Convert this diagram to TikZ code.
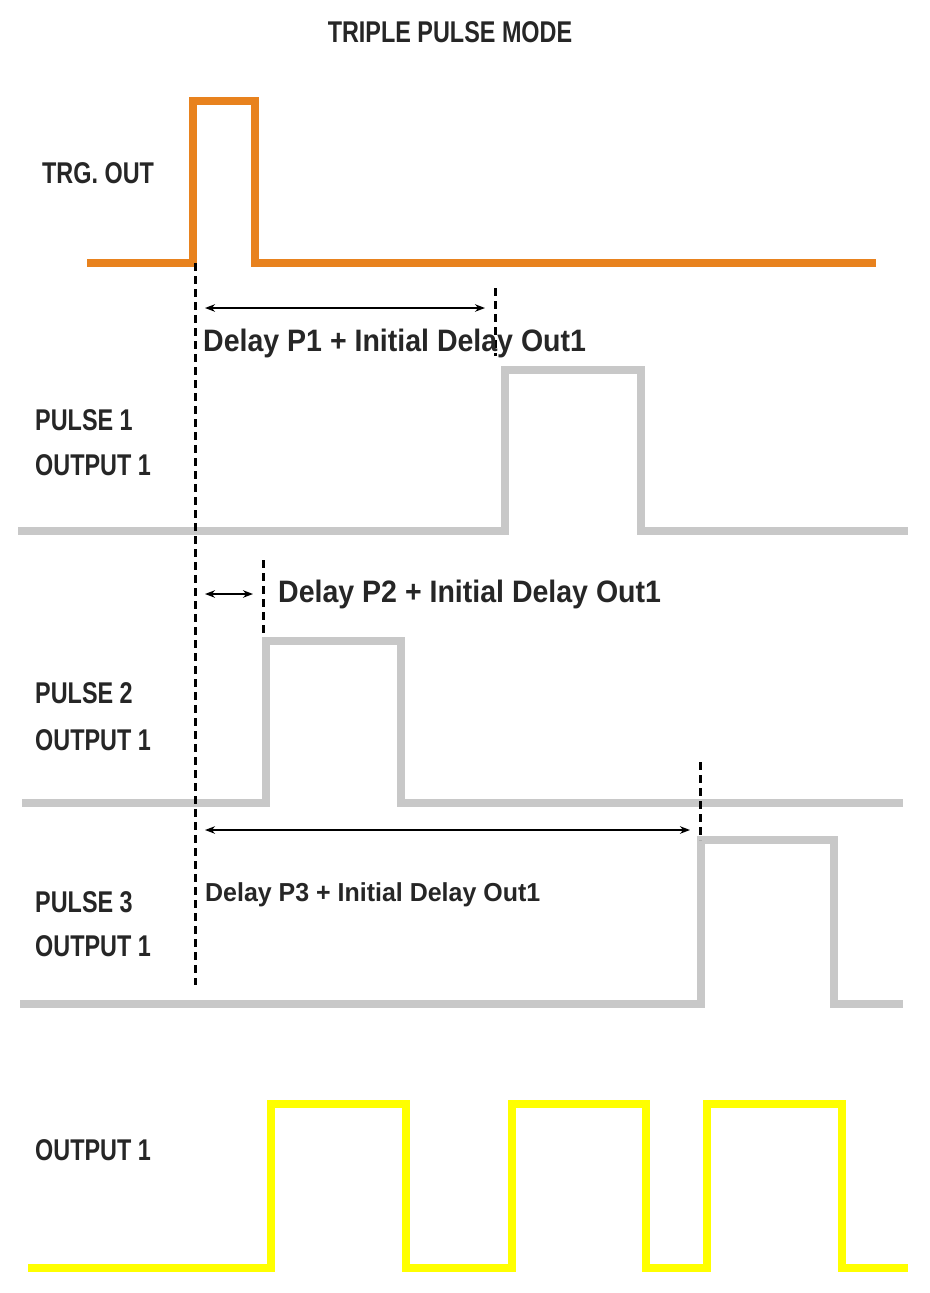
\documentclass[tikz,border=0pt]{standalone}
\usepackage{fontspec}
\setmainfont{Liberation Sans}[FakeStretch=0.78]
\usetikzlibrary{arrows.meta}
\begin{document}
\begin{tikzpicture}[x=1pt,y=-1pt,
  sig/.style={line width=8pt,line join=miter},
  lbl/.style={anchor=west,inner sep=0pt,font=\bfseries\fontsize{30}{30}\selectfont,text=black!85},
  dl/.style={anchor=west,inner sep=0pt,font=\bfseries\fontsize{31}{31}\selectfont,text=black!85},
  dsh/.style={line width=3pt,dash pattern=on 8pt off 5pt},
  arr/.style={line width=1.8pt,{Stealth[length=10pt]}-{Stealth[length=10pt]}}]
\useasboundingbox (0,0) rectangle (929,1293);
\definecolor{org}{HTML}{E8821E}\definecolor{gr}{HTML}{C8C8C8}\definecolor{yl}{HTML}{FFFF00}
\node[inner sep=0pt,font=\bfseries\fontsize{30}{30}\selectfont,text=black!85] (title) at (450,32) {TRIPLE PULSE MODE};
\node[lbl] (l0) at (42,173) {TRG. OUT};
\node[lbl] (l1a) at (35,420) {PULSE 1};\node[lbl] (l1b) at (35,465) {OUTPUT 1};
\node[lbl] (l2a) at (35,693) {PULSE 2};\node[lbl] (l2b) at (35,740) {OUTPUT 1};
\node[lbl] (l3a) at (35,902) {PULSE 3};\node[lbl] (l3b) at (35,946) {OUTPUT 1};
\node[lbl] (l4) at (35,1150) {OUTPUT 1};
\draw[sig,org] (87,263) -- (193,263) -- (193,101) -- (255,101) -- (255,263) -- (876,263);
\draw[sig,gr] (18,531) -- (505,531) -- (505,370) -- (641,370) -- (641,531) -- (908,531);
\draw[sig,gr] (22,803) -- (266,803) -- (266,641) -- (401,641) -- (401,803) -- (903,803);
\draw[sig,gr] (20,1004) -- (701,1004) -- (701,840) -- (834,840) -- (834,1004) -- (903,1004);
\draw[sig,yl] (28,1268) -- (271,1268) -- (271,1104) -- (406,1104) -- (406,1268) -- (512,1268) -- (512,1104) -- (646,1104) -- (646,1268) -- (707,1268) -- (707,1104) -- (842,1104) -- (842,1268) -- (908,1268);
\coordinate (t0) at (195,263);\coordinate (t1) at (195,985);
\draw[dsh] (t0) -- (t1);
\coordinate (d1a) at (495,288);\coordinate (d1b) at (495,356);\draw[dsh] (d1a) -- (d1b);
\coordinate (d2a) at (263,560);\coordinate (d2b) at (263,633);\draw[dsh] (d2a) -- (d2b);
\coordinate (d3a) at (700,762);\coordinate (d3b) at (700,840);\draw[dsh] (d3a) -- (d3b);
\coordinate (a1) at (205,308);\coordinate (b1) at (485,308);\draw[arr] (a1) -- (b1);
\coordinate (a2) at (205,594);\coordinate (b2) at (253,594);\draw[arr] (a2) -- (b2);
\coordinate (a3) at (205,830);\coordinate (b3) at (690,830);\draw[arr] (a3) -- (b3);
\node[dl,font=\bfseries\fontsize{31}{31}\selectfont\addfontfeature{FakeStretch=0.92}] (t1l) at (203,343) {Delay P1 + Initial Delay Out1};
\node[dl,font=\bfseries\fontsize{31}{31}\selectfont\addfontfeature{FakeStretch=0.92}] (t2l) at (278,594) {Delay P2 + Initial Delay Out1};
\node[dl,font=\bfseries\fontsize{26}{26}\selectfont\addfontfeature{FakeStretch=0.96}] (t3l) at (205,895) {Delay P3 + Initial Delay Out1};
\end{tikzpicture}
\end{document}
